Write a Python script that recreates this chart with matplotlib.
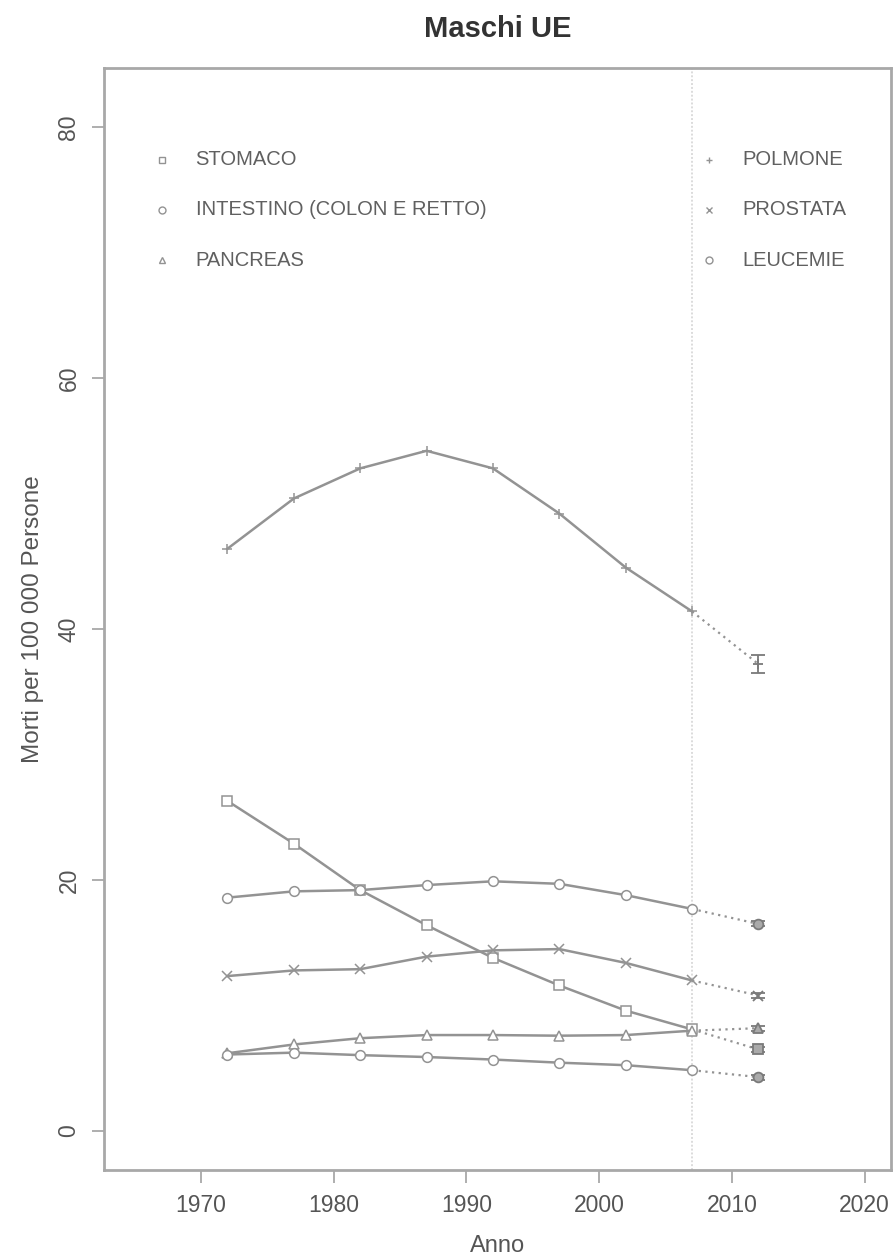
import numpy as np
import matplotlib
matplotlib.use('Agg')
import matplotlib.pyplot as plt

plt.rcParams['font.family'] = ['Liberation Sans', 'DejaVu Sans']

anni = [1972, 1977, 1982, 1987, 1992, 1997, 2002, 2007]
anno_prev = 2012

stomaco = [26.3, 22.9, 19.2, 16.4, 13.8, 11.6, 9.6, 8.1]
intestino = [18.6, 19.1, 19.2, 19.6, 19.9, 19.7, 18.8, 17.7]
pancreas = [6.2, 6.9, 7.4, 7.65, 7.65, 7.6, 7.65, 8.0]
polmone = [46.4, 50.4, 52.8, 54.2, 52.8, 49.2, 44.9, 41.4]
prostata = [12.35, 12.8, 12.9, 13.9, 14.4, 14.5, 13.4, 12.0]
leucemie = [6.1, 6.25, 6.05, 5.9, 5.7, 5.45, 5.25, 4.85]

# previsioni 2012 con intervallo
prev = {'STOMACO': (6.5, 0.2), 'INTESTINO (COLON E RETTO)': (16.5, 0.2),
        'PANCREAS': (8.2, 0.2), 'POLMONE': (37.2, 0.7),
        'PROSTATA': (10.8, 0.2), 'LEUCEMIE': (4.3, 0.2)}

serie = [('STOMACO', stomaco, 's'),
         ('INTESTINO (COLON E RETTO)', intestino, 'o'),
         ('PANCREAS', pancreas, '^'),
         ('POLMONE', polmone, '+'),
         ('PROSTATA', prostata, 'x'),
         ('LEUCEMIE', leucemie, 'o')]

col = '#939393'
fig = plt.figure(figsize=(8.93, 12.59), dpi=100)
ax = fig.add_axes([0.1165, 0.0707, 0.8815, 0.8753])

ax.axvline(2007, color='#dcdcdc', lw=1.4, ls=(0, (1, 1)), zorder=0)

for nome, v, m in serie:
    ax.plot(anni, v, color=col, lw=1.8, marker=m, ms=7, mfc='white',
            mec=col, mew=1.1, zorder=3)
    p, e = prev[nome]
    ax.plot([anni[-1], anno_prev], [v[-1], p], color=col, lw=1.6,
            ls=(0, (1, 2)), zorder=2)
    ax.errorbar(anno_prev, p, yerr=e, color='#7a7a7a', marker=m, ms=7,
                mfc='#aaaaaa', mec='#7a7a7a', mew=1.3, capsize=5,
                elinewidth=1.3, zorder=4)

ax.set_xlim(1962.7, 2022.0)
ax.set_ylim(-3.1, 84.7)
ax.set_xticks([1970, 1980, 1990, 2000, 2010, 2020])
ax.set_yticks([0, 20, 40, 60, 80])
for s in ax.spines.values():
    s.set_color('#a8a8a8')
    s.set_linewidth(2)
ax.tick_params(direction='out', length=9, width=1.3, color='#a8a8a8',
               labelsize=16.5, labelcolor='#555555', pad=8)
for t in ax.get_yticklabels():
    t.set_rotation(90)
    t.set_va('center')

ax.set_xlabel('Anno', fontsize=17, color='#555555', labelpad=13)
ax.set_ylabel('Morti per 100 000 Persone', fontsize=17.5, color='#555555', labelpad=10)
fig.suptitle('Maschi UE', x=0.557, y=0.988, fontsize=21, fontweight='bold', color='#333333')

# legenda su due colonne
for i, (nome, v, m) in enumerate(serie):
    colonna, riga = divmod(i, 3)
    ym = 77.4 - 4 * riga
    xm = 1967.1 if colonna == 0 else 2008.3
    ax.plot(xm, ym, marker=m, ms=5, mfc='white', mec=col, mew=1, color=col)
    ax.text(xm + 2.5, ym, nome, fontsize=14.5, color='#606060', va='center')

fig.savefig('out.png', dpi=100)
